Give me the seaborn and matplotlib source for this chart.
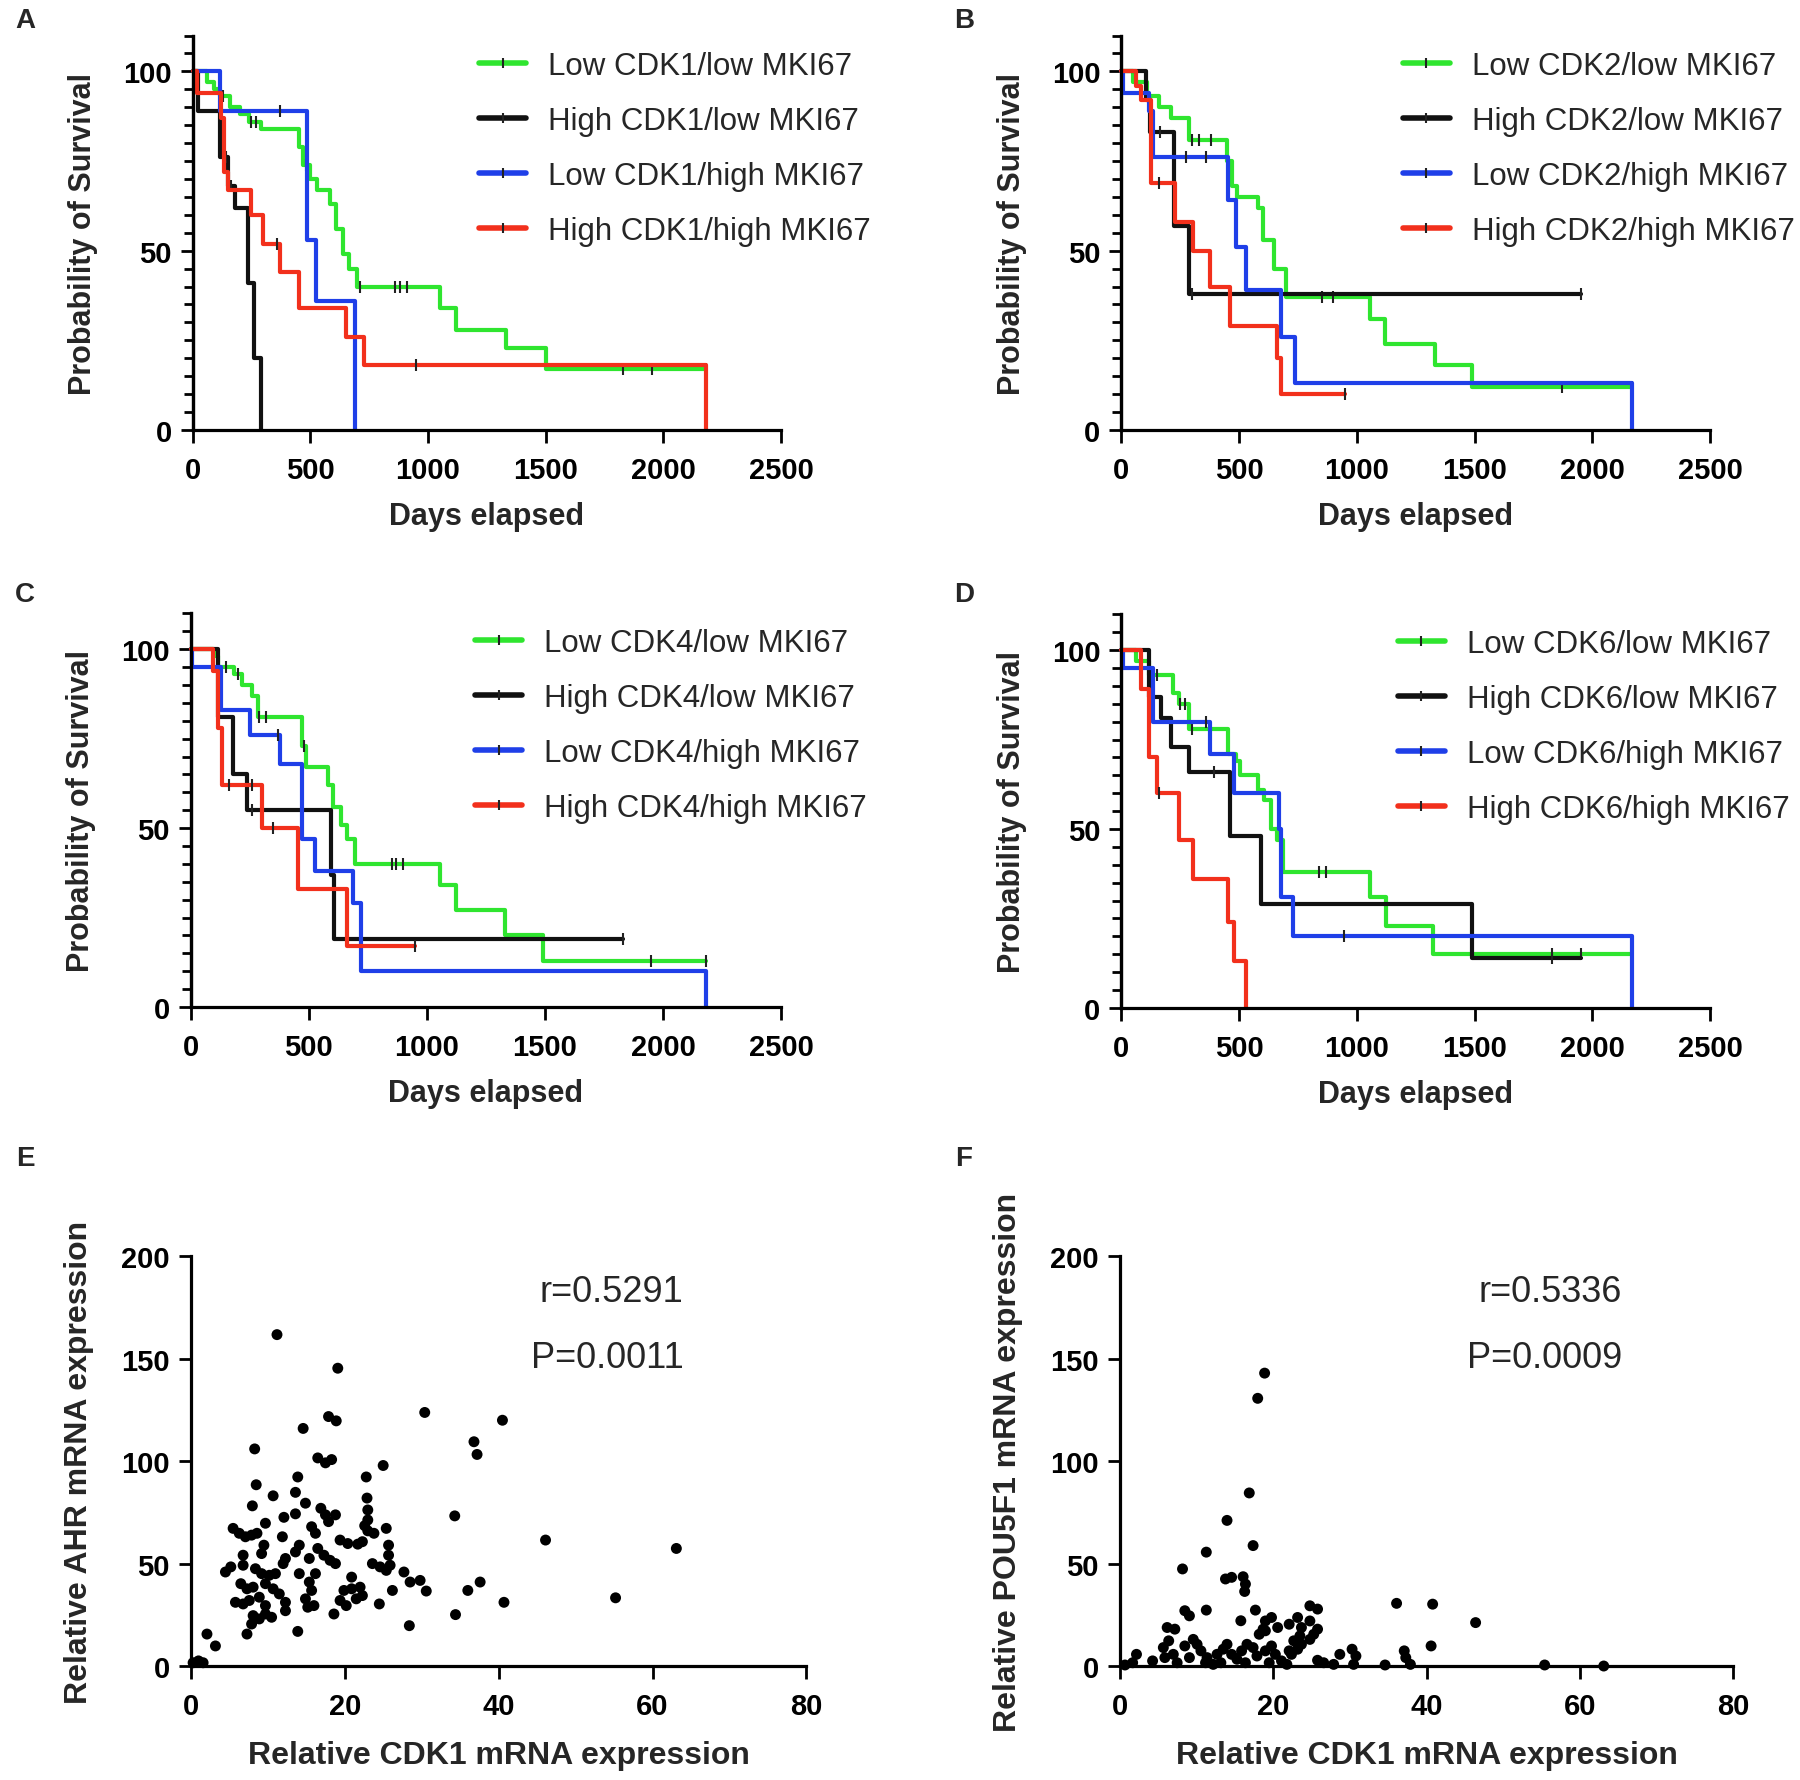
"""Curvas de supervivencia por grupos CDK/MKI67 y correlaciones con CDK1."""

import matplotlib
matplotlib.use("Agg")
import matplotlib.pyplot as plt
import numpy as np
import seaborn as sns
from matplotlib.lines import Line2D

# ---------------- datos: curvas Kaplan-Meier (dias, % supervivencia) ----------------
# Panel A - CDK1
a_llow_t = [0, 60, 90, 115, 160, 200, 240, 290, 450, 470, 500, 530, 585, 610, 640, 665, 700, 1050, 1120, 1330, 1500]
a_llow_s = [100, 97, 95, 93, 90, 88, 86, 84, 79, 74, 70, 67, 63, 56, 49, 45, 40, 34, 28, 23, 17]
a_llow_end = 2180
a_llow_cens = [130, 250, 270, 480, 710, 860, 880, 910, 1830, 1950, 2180]

a_hlow_t = [0, 25, 115, 150, 180, 235, 260, 290]
a_hlow_s = [100, 89, 76, 68, 62, 41, 20, 0]
a_hlow_end = 290
a_hlow_cens = [140, 165]

a_lhigh_t = [0, 115, 485, 525, 690]
a_lhigh_s = [100, 89, 53, 36, 0]
a_lhigh_end = 690
a_lhigh_cens = [370]

a_hhigh_t = [0, 20, 120, 135, 150, 250, 300, 370, 450, 650, 730, 2180]
a_hhigh_s = [100, 94, 87, 72, 67, 60, 52, 44, 34, 26, 18, 0]
a_hhigh_end = 2180
a_hhigh_cens = [360, 950]

# Panel B - CDK2
b_llow_t = [0, 50, 110, 160, 210, 285, 450, 470, 490, 580, 600, 650, 700, 1055, 1120, 1330, 1490]
b_llow_s = [100, 97, 93, 90, 87, 81, 75, 68, 65, 62, 53, 45, 37, 31, 24, 18, 12]
b_llow_end = 2170
b_llow_cens = [300, 330, 380, 850, 900, 1870, 2170]

b_hlow_t = [0, 105, 120, 225, 285]
b_hlow_s = [100, 92, 83, 57, 38]
b_hlow_end = 1950
b_hlow_cens = [165, 300, 1950]

b_lhigh_t = [0, 5, 117, 134, 452, 486, 528, 679, 737, 2170]
b_lhigh_s = [100, 94, 89, 76, 64, 51, 39, 26, 13, 0]
b_lhigh_end = 2170
b_lhigh_cens = [276, 360]

b_hhigh_t = [0, 60, 84, 126, 226, 302, 377, 461, 662, 679]
b_hhigh_s = [100, 96, 92, 69, 58, 50, 40, 29, 20, 10]
b_hhigh_end = 950
b_hhigh_cens = [160, 950]

# Panel C - CDK4
c_llow_t = [0, 100, 117, 184, 218, 260, 285, 469, 486, 580, 603, 637, 662, 695, 1056, 1123, 1332, 1491]
c_llow_s = [100, 98, 95, 93, 90, 87, 81, 73, 67, 62, 56, 51, 47, 40, 34, 27, 20, 13]
c_llow_end = 2180
c_llow_cens = [150, 200, 290, 320, 480, 850, 870, 900, 1950, 2180]

c_hlow_t = [0, 117, 180, 240, 595, 605]
c_hlow_s = [100, 81, 65, 55, 37, 19]
c_hlow_end = 1830
c_hlow_cens = [260, 1830]

c_lhigh_t = [0, 5, 126, 251, 377, 469, 528, 687, 720, 2180]
c_lhigh_s = [100, 95, 83, 76, 68, 47, 38, 29, 10, 0]
c_lhigh_end = 2180
c_lhigh_cens = [370]

c_hhigh_t = [0, 92, 117, 134, 302, 452, 662]
c_hhigh_s = [100, 94, 78, 62, 50, 33, 17]
c_hhigh_end = 950
c_hhigh_cens = [160, 260, 350, 950]

# Panel D - CDK6
d_llow_t = [0, 60, 117, 218, 243, 285, 454, 486, 503, 580, 605, 637, 662, 687, 1056, 1123, 1323]
d_llow_s = [100, 97, 93, 88, 85, 78, 71, 69, 65, 61, 58, 50, 47, 38, 31, 23, 15]
d_llow_end = 2170
d_llow_cens = [150, 250, 270, 300, 840, 870, 1830, 1950, 2170]

d_hlow_t = [0, 117, 168, 209, 285, 461, 595, 1491]
d_hlow_s = [100, 87, 81, 73, 66, 48, 29, 14]
d_hlow_end = 1950
d_hlow_cens = [395, 1830]

d_lhigh_t = [0, 5, 134, 377, 478, 670, 679, 729, 2170]
d_lhigh_s = [100, 95, 80, 71, 60, 50, 31, 20, 0]
d_lhigh_end = 2170
d_lhigh_cens = [360, 945]

d_hhigh_t = [0, 84, 117, 151, 243, 302, 452, 478, 528]
d_hhigh_s = [100, 89, 70, 60, 47, 36, 24, 13, 0]
d_hhigh_end = 528
d_hhigh_cens = [160]

group_labels = ["Low {g}/low MKI67", "High {g}/low MKI67", "Low {g}/high MKI67", "High {g}/high MKI67"]
km_xticks = [0, 500, 1000, 1500, 2000, 2500]
km_yticks = [0, 50, 100]
km_yminor = [v for v in range(0, 111, 5) if v not in km_yticks]

# ---------------- datos: dispersion (CDK1 vs AHR / POU5F1) ----------------
e_x = [11.2, 19.1, 30.4, 40.5, 17.9, 18.9, 14.6, 36.8, 37.2, 8.3, 16.5, 17.5, 18.3, 25.0, 13.9, 22.8,
       8.5, 10.7, 13.6, 22.9, 8.0, 14.9, 34.3, 16.9, 17.5, 18.8, 17.9, 13.6, 12.1, 23.0, 23.0, 23.0,
       9.7, 5.5, 6.3, 7.1, 7.9, 8.6, 11.9, 15.7, 16.2, 22.6, 23.8, 25.4, 19.4, 20.4, 21.7, 22.3,
       46.1, 63.1, 9.5, 9.2, 14.1, 13.6, 6.8, 12.3, 15.4, 16.5, 17.3, 18.1, 18.8, 25.7, 25.7, 23.6,
       24.6, 25.4, 25.9, 27.7, 4.5, 5.2, 6.8, 8.4, 9.2, 10.2, 11.0, 12.0, 14.1, 16.2, 20.9, 28.5,
       29.8, 30.6, 37.6, 36.0, 26.2, 6.5, 7.3, 8.1, 9.7, 10.7, 11.5, 15.4, 15.7, 19.9, 20.9, 22.0,
       22.3, 5.8, 6.8, 7.6, 8.9, 9.7, 12.3, 12.3, 14.9, 15.2, 16.0, 19.4, 20.2, 21.5, 24.5, 40.7,
       55.2, 18.6, 34.4, 8.1, 8.9, 9.7, 10.5, 7.9, 7.3, 13.9, 28.4, 2.1, 3.2, 0.3, 1.0, 1.6]
e_y = [161.8, 145.4, 123.8, 120.0, 121.8, 119.7, 116.0, 109.5, 103.3, 106.0, 101.6, 99.2, 100.8, 97.9, 92.3, 92.3,
       88.5, 83.1, 84.8, 82.0, 78.2, 79.5, 73.3, 77.0, 73.8, 73.8, 70.5, 74.3, 72.6, 76.2, 71.3, 66.0,
       69.7, 67.2, 64.8, 63.1, 63.9, 64.8, 63.1, 68.0, 64.8, 68.5, 64.8, 67.2, 61.5, 59.8, 59.5, 60.7,
       61.5, 57.4, 59.0, 54.9, 59.0, 55.7, 54.1, 52.5, 52.5, 57.4, 54.1, 51.6, 50.0, 59.0, 54.1, 50.0,
       48.4, 46.7, 49.2, 45.9, 45.9, 48.4, 49.2, 47.5, 45.1, 44.3, 45.1, 50.0, 45.1, 45.1, 43.4, 41.0,
       41.8, 36.6, 41.0, 36.9, 36.9, 40.2, 37.7, 38.5, 40.2, 37.7, 35.2, 41.0, 36.9, 36.9, 37.7, 38.5,
       34.4, 31.1, 30.3, 32.0, 33.6, 29.5, 31.1, 27.0, 32.8, 28.7, 29.5, 32.0, 29.5, 32.8, 30.3, 31.1,
       33.3, 25.4, 25.1, 24.6, 23.0, 25.4, 23.8, 20.5, 15.6, 16.9, 19.7, 15.6, 9.8, 1.6, 2.5, 1.6]

f_x = [18.9, 18.0, 16.9, 14.0, 11.3, 8.2, 17.4, 13.8, 14.6, 16.1, 16.4, 16.3, 8.5, 9.1, 11.3, 15.8,
       17.7, 24.8, 25.8, 36.1, 40.8, 46.4, 6.2, 7.2, 19.0, 19.8, 20.6, 18.7, 22.1, 23.2, 23.7, 24.8,
       25.3, 25.8, 24.8, 23.7, 23.2, 22.4, 40.6, 37.1, 37.3, 37.9, 30.3, 30.8, 28.7, 25.8, 26.6, 27.9,
       30.5, 34.6, 55.4, 63.1, 5.7, 6.4, 7.0, 7.5, 5.9, 2.2, 1.7, 0.7, 4.3, 8.5, 9.6, 10.1,
       10.6, 11.4, 12.2, 12.7, 13.5, 14.0, 14.6, 15.3, 15.9, 16.6, 17.4, 17.9, 19.0, 19.8, 20.3, 21.1,
       21.8, 22.1, 18.2, 19.0, 22.7, 23.5, 9.1, 11.2, 13.2, 16.4, 19.5]
f_y = [143.0, 130.7, 84.5, 71.1, 55.6, 47.4, 58.8, 42.5, 43.3, 43.6, 40.0, 36.4, 27.0, 24.5, 27.3, 22.1,
       27.3, 29.4, 27.8, 30.6, 30.2, 21.2, 18.8, 18.0, 22.0, 23.7, 18.8, 18.0, 20.4, 23.7, 18.8, 22.0,
       15.5, 18.0, 13.0, 10.6, 8.2, 5.7, 9.8, 7.4, 4.1, 0.8, 8.2, 4.9, 5.7, 2.8, 1.6, 0.8,
       0.8, 0.5, 0.5, 0.0, 9.0, 12.3, 5.7, 1.6, 4.1, 5.7, 1.6, 0.5, 2.5, 9.8, 13.0, 10.6,
       7.4, 4.1, 0.8, 5.7, 8.2, 10.6, 5.7, 3.3, 7.4, 10.6, 9.0, 4.9, 7.4, 9.8, 5.7, 2.5,
       0.8, 7.4, 15.5, 17.2, 12.3, 14.7, 4.1, 1.6, 1.6, 1.6, 1.6]

e_stats = ["r=0.5291", "P=0.0011"]
f_stats = ["r=0.5336", "P=0.0009"]
sc_xticks = [0, 20, 40, 60, 80]
sc_yticks = [0, 50, 100, 150, 200]

# ---------------- estilo ----------------
sns.set_theme(style="ticks")
plt.rcParams["font.family"] = ["Liberation Sans", "DejaVu Sans"]

COLORS = ["#2fe52f", "#111111", "#1f3fe8", "#f2301c"]
TICK_DARK = "#222222"


def style_axis(ax, labelsize=21):
    for side in ("left", "bottom"):
        ax.spines[side].set_linewidth(2.3)
        ax.spines[side].set_color("black")
    sns.despine(ax=ax)
    ax.tick_params(axis="both", which="major", length=9, width=2.0, labelsize=labelsize,
                   colors="black", pad=6)
    ax.tick_params(axis="x", which="major", pad=10)
    for lab in ax.get_xticklabels() + ax.get_yticklabels():
        lab.set_fontweight("bold")


def add_small_ticks(ax):
    # ticks cada 5 % sin etiqueta, en un eje secundario sobre el mismo lado
    sec = ax.secondary_yaxis("left")
    sec.set_yticks(km_yminor)
    sec.tick_params(axis="y", which="major", length=6.5, width=2.0, color="black",
                    direction="out", labelleft=False)
    sec.tick_params(axis="y", which="minor", left=False)
    sec.spines["left"].set_linewidth(2.3)
    sec.spines["left"].set_color("black")


def draw_km(ax, curves, gene, legend_x):
    for (t, s, end, cens), col in zip(curves, COLORS):
        x = list(t) + [end]
        y = list(s) + [s[-1]]
        sns.lineplot(x=x, y=y, ax=ax, drawstyle="steps-post", color=col, lw=3.0,
                     estimator=None, sort=False, clip_on=False)
        idx = np.searchsorted(t, cens, side="right") - 1
        ax.plot(cens, np.asarray(s)[idx], ls="none", marker="|", ms=9, mew=1.5,
                color=TICK_DARK, clip_on=False)
    ax.set_xlim(0, 2500)
    ax.set_ylim(0, 110)
    ax.set_xticks(km_xticks)
    ax.set_yticks(km_yticks)
    style_axis(ax)
    add_small_ticks(ax)
    ax.set_xlabel("Days elapsed", fontsize=22, fontweight="bold", va="center")
    ax.set_ylabel("Probability of Survival", fontsize=22, fontweight="bold", va="center")
    ax.xaxis.set_label_coords(0.5, -0.218)
    ax.yaxis.set_label_coords(-0.186, 0.5)
    handles = [Line2D([], [], color=c, lw=4.0, marker="|", ms=7, mew=1.5, mec=TICK_DARK)
               for c in COLORS]
    labels = [g.format(g=gene) for g in group_labels]
    ax.legend(handles, labels, loc="upper left", bbox_to_anchor=(legend_x, 0.962),
              frameon=False, fontsize=22.5, handlelength=1.5, handletextpad=0.7,
              labelspacing=0.8, borderpad=0, borderaxespad=0, numpoints=1)


def draw_scatter(ax, x, y, ylabel, stats, text_x):
    sns.scatterplot(x=x, y=y, ax=ax, color="black", s=62, edgecolor="none", clip_on=False)
    ax.set_xlim(0, 80)
    ax.set_ylim(0, 200)
    ax.set_xticks(sc_xticks)
    ax.set_yticks(sc_yticks)
    style_axis(ax)
    ax.set_xlabel("Relative CDK1 mRNA expression", fontsize=23, fontweight="bold", va="center")
    ax.set_ylabel(ylabel, fontsize=23, fontweight="bold", va="center")
    ax.xaxis.set_label_coords(0.5, -0.218)
    ax.yaxis.set_label_coords(-0.182, 0.5)
    ax.text(text_x, 183, stats[0], ha="right", va="center", fontsize=26)
    ax.text(text_x, 150.5, stats[1], ha="right", va="center", fontsize=26)


fig = plt.figure(figsize=(18, 17.81), dpi=100)

ax_a = fig.add_axes([0.107, 0.758, 0.327, 0.2215])
ax_b = fig.add_axes([0.623, 0.758, 0.327, 0.2215])
ax_c = fig.add_axes([0.106, 0.434, 0.328, 0.221])
ax_d = fig.add_axes([0.623, 0.4335, 0.327, 0.221])
ax_e = fig.add_axes([0.106, 0.064, 0.342, 0.230])
ax_f = fig.add_axes([0.622, 0.064, 0.341, 0.230])

draw_km(ax_a, [(a_llow_t, a_llow_s, a_llow_end, a_llow_cens),
               (a_hlow_t, a_hlow_s, a_hlow_end, a_hlow_cens),
               (a_lhigh_t, a_lhigh_s, a_lhigh_end, a_lhigh_cens),
               (a_hhigh_t, a_hhigh_s, a_hhigh_end, a_hhigh_cens)], "CDK1", 0.487)
draw_km(ax_b, [(b_llow_t, b_llow_s, b_llow_end, b_llow_cens),
               (b_hlow_t, b_hlow_s, b_hlow_end, b_hlow_cens),
               (b_lhigh_t, b_lhigh_s, b_lhigh_end, b_lhigh_cens),
               (b_hhigh_t, b_hhigh_s, b_hhigh_end, b_hhigh_cens)], "CDK2", 0.478)
draw_km(ax_c, [(c_llow_t, c_llow_s, c_llow_end, c_llow_cens),
               (c_hlow_t, c_hlow_s, c_hlow_end, c_hlow_cens),
               (c_lhigh_t, c_lhigh_s, c_lhigh_end, c_lhigh_cens),
               (c_hhigh_t, c_hhigh_s, c_hhigh_end, c_hhigh_cens)], "CDK4", 0.482)
draw_km(ax_d, [(d_llow_t, d_llow_s, d_llow_end, d_llow_cens),
               (d_hlow_t, d_hlow_s, d_hlow_end, d_hlow_cens),
               (d_lhigh_t, d_lhigh_s, d_lhigh_end, d_lhigh_cens),
               (d_hhigh_t, d_hhigh_s, d_hhigh_end, d_hhigh_cens)], "CDK6", 0.470)

draw_scatter(ax_e, e_x, e_y, "Relative AHR mRNA expression", e_stats, 64)
draw_scatter(ax_f, f_x, f_y, "Relative POU5F1 mRNA expression", f_stats, 65.5)

for letter, (px, py) in zip("ABCDEF", [(25, 21), (964, 21), (25, 595), (964, 595), (25, 1159), (964, 1159)]):
    fig.text(px / 1800, 1 - py / 1781, letter, fontsize=20, fontweight="bold", ha="center", va="center")

fig.savefig("out.png", dpi=100, facecolor="white")
